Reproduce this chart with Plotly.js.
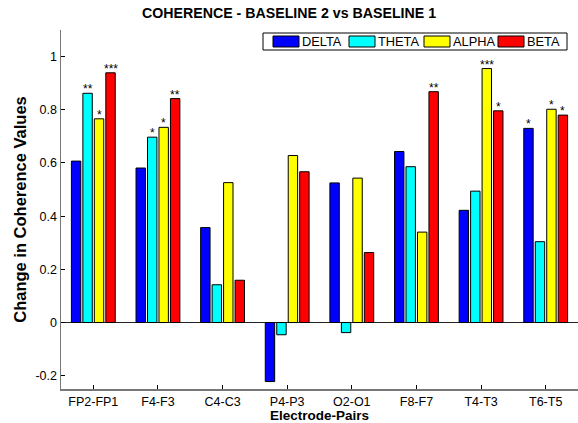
<!DOCTYPE html>
<html>
<head>
<meta charset="utf-8">
<script src="https://cdn.plot.ly/plotly-3.0.1.min.js"></script>
<style>html,body{margin:0;padding:0;background:#fff;}#chart{width:578px;height:423px;}</style>
</head>
<body>
<div id="chart"></div>
<script>
var categories = ['FP2-FP1','F4-F3','C4-C3','P4-P3','O2-O1','F8-F7','T4-T3','T6-T5'];
var delta = [0.607, 0.581, 0.357, -0.222, 0.525, 0.643, 0.422, 0.730];
var theta = [0.862, 0.697, 0.142, -0.046, -0.038, 0.586, 0.494, 0.304];
var alpha = [0.766, 0.734, 0.526, 0.628, 0.543, 0.340, 0.955, 0.802];
var beta  = [0.939, 0.842, 0.159, 0.567, 0.263, 0.868, 0.796, 0.780];
var starsDelta = ['', '', '', '', '', '', '', '*'];
var starsTheta = ['**', '*', '', '', '', '', '', ''];
var starsAlpha = ['*', '*', '', '', '', '', '***', '*'];
var starsBeta  = ['***', '**', '', '', '', '**', '*', '*'];
var seriesNames = ['DELTA','THETA','ALPHA','BETA'];
var yTickVals = [-0.2, 0, 0.2, 0.4, 0.6, 0.8, 1];
var yTickText = ['-0.2', '0', '0.2', '0.4', '0.6', '0.8', '1'];

var series = [delta, theta, alpha, beta];
var stars = [starsDelta, starsTheta, starsAlpha, starsBeta];
var colors = ['#0000FF', '#00FFFF', '#FFFF00', '#FF0000'];
var FONT = 'Arial, "Liberation Sans", sans-serif';
var bargap = 0.29;

// plot-area geometry (pixels) used to place the hand-built legend
var W = 578, H = 423, ML = 61, MR = 0, MT = 30, MB = 34;
var PW = W - ML - MR, PH = H - MT - MB;
function px(x){ return (x - ML) / PW; }
function py(y){ return (H - MB - y) / PH; }

var xIdx = categories.map(function(c, i){ return i; });
var traces = series.map(function(s, k){
  return {
    type: 'bar', name: seriesNames[k], x: xIdx, y: s,
    marker: {color: colors[k], line: {color: '#000', width: 1}},
    hoverinfo: 'skip', showlegend: false
  };
});

var annotations = [];
stars.forEach(function(st, k){
  st.forEach(function(t, j){
    if (!t) return;
    annotations.push({
      x: j + (k - 1.5) * (1 - bargap) / 4, y: series[k][j], xref: 'x', yref: 'y',
      text: t, showarrow: false, yanchor: 'bottom', yshift: -5,
      font: {family: FONT, size: 12, color: '#000'}
    });
  });
});

// legend (MATLAB style box with wide swatches)
var shapes = [];
shapes.push({type: 'rect', xref: 'paper', yref: 'paper', x0: px(263), x1: px(567), y0: py(50), y1: py(33),
             line: {color: '#000', width: 1}, fillcolor: '#fff', layer: 'above'});
var swatchLeft = [273, 349, 424, 498];
seriesNames.forEach(function(n, k){
  var x0 = swatchLeft[k];
  shapes.push({type: 'rect', xref: 'paper', yref: 'paper', x0: px(x0), x1: px(x0 + 26), y0: py(47), y1: py(36),
               line: {color: '#000', width: 1}, fillcolor: colors[k], layer: 'above'});
  annotations.push({xref: 'paper', yref: 'paper', x: px(x0 + 27.5), y: py(41.5), xanchor: 'left', yanchor: 'middle',
                    text: n, showarrow: false, borderpad: 0, font: {family: FONT, size: 12.8, color: '#000'}});
});

var layout = {
  width: W, height: H,
  margin: {l: ML, r: MR, t: MT, b: MB, pad: 0},
  paper_bgcolor: '#fff', plot_bgcolor: '#fff',
  barmode: 'group', bargap: bargap, bargroupgap: 0.18,
  font: {family: FONT, size: 12.5, color: '#000'},
  title: {text: '<b>COHERENCE - BASELINE 2 vs BASELINE 1</b>', font: {family: FONT, size: 14.2, color: '#000'},
          xref: 'container', x: 0.5, xanchor: 'center', yref: 'container', y: 1 - 13/423, yanchor: 'middle'},
  xaxis: {
    range: [-0.5, 7.5], tickvals: xIdx, ticktext: categories,
    ticks: 'inside', ticklen: 4, tickcolor: '#000', tickwidth: 1,
    showline: true, linecolor: '#777', linewidth: 1.5, showgrid: false, zeroline: false,
    tickfont: {family: FONT, size: 12.5, color: '#000'},
    title: {text: '<b>Electrode-Pairs</b>', font: {family: FONT, size: 13.5, color: '#000'}, standoff: 5}
  },
  yaxis: {
    range: [-0.25, 1.1], tickvals: yTickVals, ticktext: yTickText,
    ticks: 'inside', ticklen: 4, tickcolor: '#000', tickwidth: 1,
    showline: true, linecolor: '#777', linewidth: 1.5, showgrid: false,
    zeroline: true, zerolinecolor: '#222', zerolinewidth: 1,
    tickfont: {family: FONT, size: 12.5, color: '#000'},
    title: {text: '<b>Change in Coherence Values</b>', font: {family: FONT, size: 16.5, color: '#000'}, standoff: 4}
  },
  annotations: annotations,
  shapes: shapes,
  showlegend: false
};

Plotly.newPlot('chart', traces, layout, {displayModeBar: false, staticPlot: true});
</script>
</body>
</html>
